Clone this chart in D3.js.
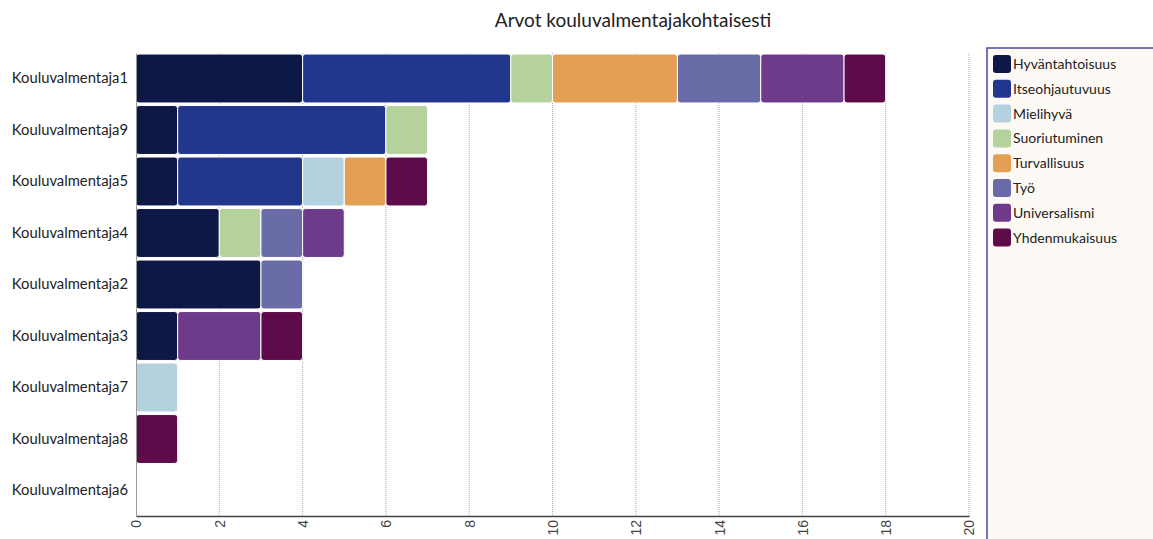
<!DOCTYPE html>
<html lang="fi">
<head>
<meta charset="utf-8">
<title>Arvot kouluvalmentajakohtaisesti</title>
<script src="https://d3js.org/d3.v7.min.js"></script>
<style>
  body { margin: 0; background: #fff; }
  svg { display: block; font-family: Lato, "Open Sans", sans-serif; }
</style>
</head>
<body>
<script>
// data
var categories = ["Kouluvalmentaja1", "Kouluvalmentaja9", "Kouluvalmentaja5", "Kouluvalmentaja4",
  "Kouluvalmentaja2", "Kouluvalmentaja3", "Kouluvalmentaja7", "Kouluvalmentaja8", "Kouluvalmentaja6"];
var seriesNames = ["Hyväntahtoisuus", "Itseohjautuvuus", "Mielihyvä", "Suoriutuminen",
  "Turvallisuus", "Työ", "Universalismi", "Yhdenmukaisuus"];
var seriesColors = ["#0d1847", "#21378d", "#b4d1e0", "#b5d19c", "#e3a055", "#6a6ca8", "#6e3a8a", "#5e0b4a"];
// one array per series, in category order
var hyvantahtoisuus = [4, 1, 1, 2, 3, 1, 0, 0, 0];
var itseohjautuvuus = [5, 5, 3, 0, 0, 0, 0, 0, 0];
var mielihyva       = [0, 0, 1, 0, 0, 0, 1, 0, 0];
var suoriutuminen   = [1, 1, 0, 1, 0, 0, 0, 0, 0];
var turvallisuus    = [3, 0, 1, 0, 0, 0, 0, 0, 0];
var tyo             = [2, 0, 0, 1, 1, 0, 0, 0, 0];
var universalismi   = [2, 0, 0, 1, 0, 2, 0, 0, 0];
var yhdenmukaisuus  = [1, 0, 1, 0, 0, 1, 0, 1, 0];
var xTicks = [0, 2, 4, 6, 8, 10, 12, 14, 16, 18, 20];

var seriesValues = [hyvantahtoisuus, itseohjautuvuus, mielihyva, suoriutuminen,
  turvallisuus, tyo, universalismi, yhdenmukaisuus];

var table = categories.map(function (c, i) {
  var row = { name: c };
  seriesNames.forEach(function (s, j) { row[s] = seriesValues[j][i]; });
  return row;
});

var w = 1153, h = 539;
var margin = { top: 53, right: 184, bottom: 23, left: 136 };

var svg = d3.select("body").append("svg")
  .attr("width", w)
  .attr("height", h);

var xScale = d3.scaleLinear()
  .domain([0, 20])
  .range([margin.left, w - margin.right]);

var yScale = d3.scaleBand()
  .domain(categories)
  .range([margin.top, h - margin.bottom])
  .paddingInner(0.05)
  .paddingOuter(0.02);

var color = d3.scaleOrdinal().domain(seriesNames).range(seriesColors);

// title
svg.append("text")
  .attr("x", 633)
  .attr("y", 27)
  .attr("text-anchor", "middle")
  .attr("font-size", 19)
  .attr("fill", "#222")
  .text("Arvot kouluvalmentajakohtaisesti");

// grid lines
svg.append("g")
  .selectAll("line")
  .data(xTicks.slice(1))
  .enter()
  .append("line")
  .attr("x1", d => xScale(d))
  .attr("x2", d => xScale(d))
  .attr("y1", margin.top)
  .attr("y2", h - margin.bottom)
  .attr("stroke", "#aaa")
  .attr("stroke-width", 1)
  .attr("stroke-dasharray", "1,1");

// stacked bars
var stack = d3.stack().keys(seriesNames);
var layers = stack(table);

svg.append("g")
  .selectAll("g")
  .data(layers)
  .enter()
  .append("g")
  .attr("fill", d => color(d.key))
  .selectAll("rect")
  .data(d => d.filter(p => p[1] - p[0] > 0))
  .enter()
  .append("rect")
  .attr("x", d => xScale(d[0]))
  .attr("y", d => yScale(d.data.name))
  .attr("width", d => xScale(d[1]) - xScale(d[0]))
  .attr("height", yScale.bandwidth())
  .attr("rx", 3)
  .attr("stroke", "#fff")
  .attr("stroke-width", 1);

// x axis
var xAxis = d3.axisBottom(xScale)
  .tickValues(xTicks)
  .tickSize(0)
  .tickPadding(4);

var gx = svg.append("g")
  .attr("transform", "translate(0," + (h - margin.bottom) + ")")
  .call(xAxis);
gx.select(".domain").attr("stroke", "#444").attr("stroke-width", 1.5);
gx.selectAll("text")
  .attr("font-family", "'Liberation Sans', Arial, sans-serif")
  .attr("font-size", 14)
  .attr("fill", "#444")
  .attr("transform", "rotate(-90)")
  .attr("text-anchor", "end")
  .attr("x", -4)
  .attr("y", 0)
  .attr("dy", "0.35em");

// y axis
var yAxis = d3.axisLeft(yScale).tickSize(0).tickPadding(8);
var gy = svg.append("g")
  .attr("transform", "translate(" + margin.left + ",0)")
  .call(yAxis);
gy.select(".domain").attr("stroke", "#999").attr("stroke-width", 1);
gy.selectAll("text")
  .attr("font-family", "Lato, sans-serif")
  .attr("font-size", 14.8)
  .attr("fill", "#222");

// legend
var legend = svg.append("g");
legend.append("rect")
  .attr("x", 987)
  .attr("y", 48)
  .attr("width", 200)
  .attr("height", 520)
  .attr("fill", "#fdfaf6")
  .attr("stroke", "#4b4b8f")
  .attr("stroke-width", 1.5);

var items = legend.selectAll("g.item")
  .data(seriesNames)
  .enter()
  .append("g")
  .attr("class", "item")
  .attr("transform", (d, i) => "translate(993," + (55 + i * 24.8) + ")");

items.append("rect")
  .attr("width", 18)
  .attr("height", 18)
  .attr("rx", 3)
  .attr("fill", d => color(d));

items.append("text")
  .attr("x", 20)
  .attr("y", 9)
  .attr("dy", "0.35em")
  .attr("font-family", "Lato, sans-serif")
  .attr("font-size", 14)
  .attr("fill", "#222")
  .text(d => d);
</script>
</body>
</html>
